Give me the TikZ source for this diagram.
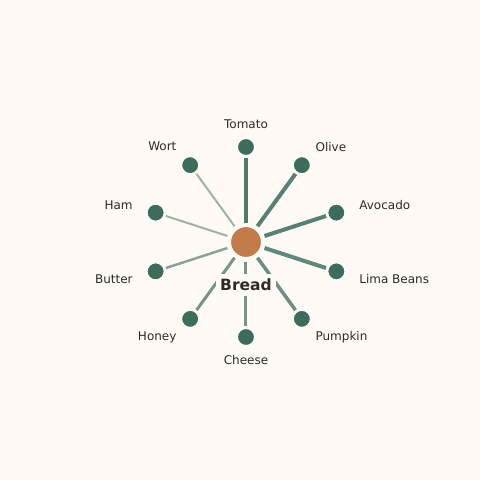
\documentclass[tikz,border=0pt]{standalone}
\usepackage{fontspec}
\setmainfont{DejaVu Sans}
\definecolor{paper}{HTML}{FFFAF6}
\definecolor{leaf}{HTML}{3D6B5C}
\definecolor{crust}{HTML}{C27C4A}
\definecolor{ink}{HTML}{2E2A27}
\begin{document}
\begin{tikzpicture}[x=1pt,y=1pt]

% Page and background
\fill[paper] (-246,-238) rectangle (234,242);
\useasboundingbox (-246,-238) rectangle (234,242);
% Style for nodes
\tikzstyle{core}=[circle,fill=crust,draw=white,line width=1pt,minimum size=31pt,inner sep=0,outer sep=4pt]
\tikzstyle{leafnode}=[circle,fill=leaf,draw=white,line width=1pt,minimum size=17pt,inner sep=0,outer sep=2.3pt]
\tikzstyle{tag}=[inner sep=0,text=ink,font=\fontsize{12}{14}\selectfont]
\tikzstyle{title}=[fill=paper,inner xsep=4pt,inner ysep=5.5pt,text=ink,font=\fontsize{15.5}{18}\selectfont\bfseries]
\tikzstyle{link}=[draw=leaf,line cap=butt]
% The hub and its spokes
\node(0)[core]{};
\node(1)[leafnode] at (90:95){};
\node(2)[leafnode] at (54:95){};
\node(3)[leafnode] at (18:95){};
\node(4)[leafnode] at (-18:95){};
\node(5)[leafnode] at (-54:95){};
\node(6)[leafnode] at (-90:95){};
\node(7)[leafnode] at (-126:95){};
\node(8)[leafnode] at (-162:95){};
\node(9)[leafnode] at (162:95){};
\node(10)[leafnode] at (126:95){};
% Labels
\node(l1)[tag] at (90:118){Tomato};
\node(l2)[tag,anchor=west] at (54:118){Olive};
\node(l3)[tag,anchor=west] at (18:119){Avocado};
\node(l4)[tag,anchor=west] at (-18:119){Lima Beans};
\node(l5)[tag,anchor=west] at (-54:118){Pumpkin};
\node(l6)[tag] at (-90:118){Cheese};
\node(l7)[tag,anchor=east] at (-126:118){Honey};
\node(l8)[tag,anchor=east] at (-162:119){Butter};
\node(l9)[tag,anchor=east] at (162:119){Ham};
\node(l10)[tag,anchor=east] at (126:118){Wort};
% Spokes
\draw[link,line width=4.5pt,draw opacity=0.9] (0) -- (1);
\draw[link,line width=4pt,draw opacity=0.85] (0) -- (2);
\draw[link,line width=4pt,draw opacity=0.85] (0) -- (3);
\draw[link,line width=4pt,draw opacity=0.8] (0) -- (4);
\draw[link,line width=3.5pt,draw opacity=0.75] (0) -- (5);
\draw[link,line width=3pt,draw opacity=0.7] (0) -- (6);
\draw[link,line width=3pt,draw opacity=0.7] (0) -- (7);
\draw[link,line width=2.5pt,draw opacity=0.6] (0) -- (8);
\draw[link,line width=2pt,draw opacity=0.5] (0) -- (9);
\draw[link,line width=2pt,draw opacity=0.5] (0) -- (10);
% Name of the hub
\node(b)[title] at (0,-43){Bread};
\end{tikzpicture}
\end{document}
